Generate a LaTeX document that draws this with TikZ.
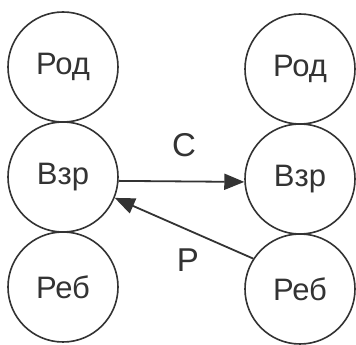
\documentclass[tikz,border=0pt]{standalone}
\usepackage{fontspec}
\setmainfont{Liberation Sans}
\usetikzlibrary{arrows.meta}
\definecolor{ink}{HTML}{333333}
\begin{document}
\begin{tikzpicture}[x=1pt,y=1pt,
  circ/.style={circle,draw=ink,line width=1.6pt,minimum size=110pt,inner sep=0pt,font=\fontsize{31}{32}\selectfont,text=ink},
  arr/.style={line width=1.8pt,draw=ink,-{Triangle[length=20pt,width=16pt]}},
  lbl/.style={font=\fontsize{33}{34}\selectfont,text=ink,inner sep=0pt}]
\fill[white] (0,0) rectangle (356,345);
\useasboundingbox (0,0) rectangle (356,345);
\node[circ] (lt) at (63,278) {Род};
\node[circ] (lm) at (63,168) {Взр};
\node[circ] (lb) at (63,58) {Реб};
\node[circ] (rt) at (300,276) {Род};
\node[circ] (rm) at (300,166) {Взр};
\node[circ] (rb) at (300,56) {Реб};
\draw[arr] (lm.-4) -- (rm.183);
\draw[arr] (rb.147) -- (lm.-22);
\node[lbl] (c) at (184,200) {С};
\node[lbl] (p) at (188,85) {Р};
\end{tikzpicture}
\end{document}
